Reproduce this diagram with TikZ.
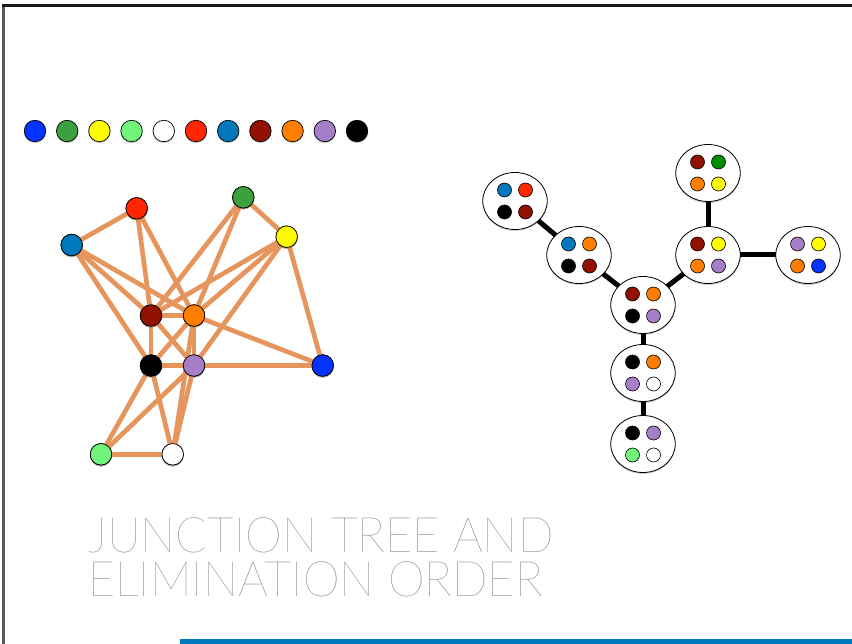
\documentclass[tikz,border=0pt]{standalone}
\usepackage{fontspec}
\usetikzlibrary{shapes.geometric,shadows}

% thin sans for the heading, with fallbacks
\IfFontExistsTF{Lato Thin}{\newfontfamily\titlefont{Lato Thin}}{%
  \IfFontExistsTF{Lato Hairline}{\newfontfamily\titlefont{Lato Hairline}}{%
    \IfFontExistsTF{Lato Light}{\newfontfamily\titlefont{Lato Light}}{%
      \newfontfamily\titlefont{Liberation Sans}}}}

% palette
\definecolor{cBlue}{HTML}{0433FF}
\definecolor{cGreen}{HTML}{3DA03F}
\definecolor{cTreeGreen}{HTML}{008F00}
\definecolor{cYellow}{HTML}{FFFB00}
\definecolor{cLime}{HTML}{70F57A}
\definecolor{cRed}{HTML}{FF2600}
\definecolor{cTeal}{HTML}{0078BB}
\definecolor{cMaroon}{HTML}{931100}
\definecolor{cOrange}{HTML}{FF7E00}
\definecolor{cPurple}{HTML}{A47FC8}
\definecolor{edgeTan}{HTML}{E6955D}
\definecolor{titleGray}{HTML}{6F7B8E}
\definecolor{barBlue}{HTML}{0079C0}

\tikzset{
  softshadow/.style={drop shadow={shadow xshift=0pt, shadow yshift=-1.5pt, fill=black, opacity=0.18}},
  vnode/.style={circle, draw=black, line width=0.7pt, minimum size=21.5pt, inner sep=0pt, softshadow},
  dot/.style={circle, draw=black, line width=0.6pt, minimum size=14pt, inner sep=0pt},
  clique/.style={ellipse, draw=black, line width=0.8pt, minimum width=64.5pt, minimum height=57pt, inner sep=0pt, fill=white, softshadow},
  gedge/.style={edgeTan, line width=4.7pt},
  tedge/.style={black, line width=5pt},
  titletext/.style={anchor=north west, inner sep=0pt, align=left, text=titleGray,
                    xscale=0.955, transform shape,
                    font=\titlefont\fontsize{49}{44}\selectfont},
}

\begin{document}
\begin{tikzpicture}[x=1pt, y=-1pt]
\useasboundingbox (0,0) rectangle (852,644);
\fill[white] (0,0) rectangle (852,644);

% slide frame and footer bar
\draw[line width=2.5pt, black!65] (3.5,644) -- (3.5,5.5);
\draw[line width=2.5pt, black!90] (2.3,5.5) -- (852,5.5);
\fill[barBlue] (180,638.5) rectangle (852,644);

% colour key
\foreach \c [count=\i from 0] in {cBlue,cGreen,cYellow,cLime,white,cRed,cTeal,cMaroon,cOrange,cPurple,black}
  \node[vnode, fill=\c] (k\i) at (35+32.2*\i,131) {};

% graph vertices (positions only; drawn again above the edges)
\node[vnode, fill=cRed]    (gR) at (136.7,208.3) {};
\node[vnode, fill=cTeal]   (gT) at (71.7,245)    {};
\node[vnode, fill=cGreen]  (gG) at (243.3,197.3) {};
\node[vnode, fill=cYellow] (gY) at (286.7,236.7) {};
\node[vnode, fill=cMaroon] (gD) at (151,315.5)   {};
\node[vnode, fill=cOrange] (gO) at (194,315.5)   {};
\node[vnode, fill=black]   (gK) at (151,365.5)   {};
\node[vnode, fill=cPurple] (gP) at (194,365.5)   {};
\node[vnode, fill=cBlue]   (gB) at (322.7,365.5) {};
\node[vnode, fill=cLime]   (gL) at (101,454.3)   {};
\node[vnode, fill=white]   (gW) at (172.7,454.3) {};

% graph edges
\foreach \a/\b in {gT/gR, gT/gD, gT/gO, gT/gK, gR/gD, gR/gO,
                   gG/gD, gG/gO, gG/gY, gY/gD, gY/gO, gY/gP, gY/gB,
                   gD/gO, gD/gK, gD/gP, gO/gK, gO/gP, gO/gB, gO/gW,
                   gK/gP, gK/gL, gK/gW, gP/gB, gP/gL, gP/gW, gL/gW}
  \draw[gedge] (\a.center) -- (\b.center);

% vertices on top of the edges
\foreach \n/\c in {gR/cRed, gT/cTeal, gG/cGreen, gY/cYellow, gD/cMaroon, gO/cOrange,
                   gK/black, gP/cPurple, gB/cBlue, gL/cLime, gW/white}
  \node[vnode, fill=\c] at (\n.center) {};

% junction tree cliques
\node[clique] (cA) at (515,201) {};
\node[clique] (cB) at (579,255) {};
\node[clique] (cC) at (643,305) {};
\node[clique] (cD) at (708,255) {};
\node[clique] (cE) at (708,173) {};
\node[clique] (cF) at (808,255) {};
\node[clique] (cG) at (643,373) {};
\node[clique] (cH) at (643,444) {};

% separators between cliques
\foreach \a/\b in {cA/cB, cB/cC, cC/cD, cD/cE, cD/cF, cC/cG, cG/cH}
  \draw[tedge, shorten <=-0.5pt, shorten >=-0.5pt] (\a) -- (\b);

% member variables of each clique (2x2 grid)
\foreach \q/\tl/\tr/\bl/\br in {
    cA/cTeal/cRed/black/cMaroon,
    cB/cTeal/cOrange/black/cMaroon,
    cC/cMaroon/cOrange/black/cPurple,
    cD/cMaroon/cYellow/cOrange/cPurple,
    cE/cMaroon/cTreeGreen/cOrange/cYellow,
    cF/cPurple/cYellow/cOrange/cBlue,
    cG/black/cOrange/cPurple/white,
    cH/black/cPurple/cLime/white} {
  \node[dot, fill=\tl] (\q-1) at ([shift={(-10.5,-11)}]\q.center) {};
  \node[dot, fill=\tr] (\q-2) at ([shift={(10.5,-11)}]\q.center) {};
  \node[dot, fill=\bl] (\q-3) at ([shift={(-10.5,11)}]\q.center) {};
  \node[dot, fill=\br] (\q-4) at ([shift={(10.5,11)}]\q.center) {};
}

% heading
\node[titletext] (title) at (88,518) {JUNCTION TREE AND\\ELIMINATION ORDER};
\end{tikzpicture}
\end{document}
